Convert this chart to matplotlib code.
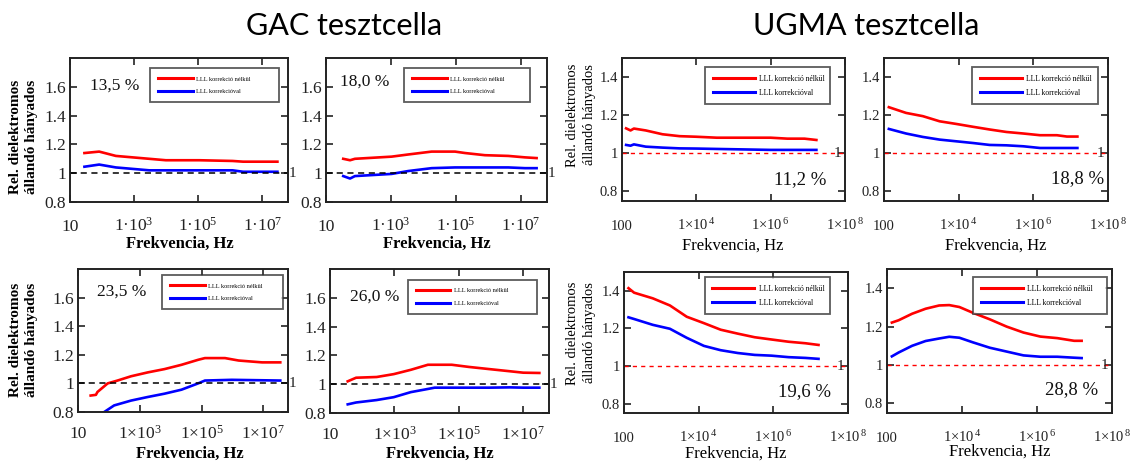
import numpy as np
import matplotlib
matplotlib.use("Agg")
import matplotlib.pyplot as plt

plt.rcParams['font.family'] = ['Liberation Serif', 'DejaVu Serif']
plt.rcParams['mathtext.fontset'] = 'custom'
plt.rcParams['mathtext.rm'] = 'Liberation Serif'
plt.rcParams['mathtext.it'] = 'Liberation Serif:italic'
plt.rcParams['mathtext.bf'] = 'Liberation Serif:bold'

# ---------------- data (log10 of frequency in Hz, relative ratio) ----------------
legend_labels = ["LLL korrekció nélkül", "LLL korrekcióval"]

# GAC 13,5 %
gac135_logf = [1.45, 1.91, 2.43, 2.95, 3.47, 3.99, 5.03, 6.07, 6.40, 7.47]
gac135_red = [1.14, 1.15, 1.12, 1.11, 1.10, 1.09, 1.09, 1.085, 1.08, 1.08]
gac135_blue = [1.045, 1.06, 1.04, 1.03, 1.02, 1.02, 1.02, 1.02, 1.01, 1.01]

# GAC 18,0 %
gac180_logf = [1.53, 1.74, 1.89, 3.02, 3.53, 4.25, 4.97, 5.28, 5.89, 6.61, 7.12, 7.48]
gac180_red = [1.10, 1.09, 1.10, 1.115, 1.13, 1.15, 1.15, 1.14, 1.125, 1.12, 1.11, 1.105]
gac180_blue = [0.98, 0.963, 0.98, 0.995, 1.015, 1.035, 1.04, 1.04, 1.04, 1.04, 1.035, 1.035]

# GAC 23,5 %
gac235_red_logf = [1.41, 1.58, 1.63, 1.96, 2.28, 2.72, 3.26, 3.80, 4.35, 4.89, 5.11, 5.76, 6.20, 6.96, 7.55]
gac235_red = [0.915, 0.92, 0.94, 1.0, 1.02, 1.05, 1.077, 1.10, 1.13, 1.165, 1.177, 1.177, 1.16, 1.147, 1.147]
gac235_blue_logf = [1.41, 1.85, 2.17, 2.72, 3.26, 3.80, 4.35, 4.89, 5.11, 5.98, 7.55]
gac235_blue = [0.74, 0.80, 0.846, 0.88, 0.905, 0.928, 0.956, 1.0, 1.02, 1.025, 1.02]

# GAC 26,0 %
gac260_logf = [1.55, 1.81, 2.45, 2.98, 3.51, 4.04, 4.25, 4.78, 5.31, 5.94, 6.58, 7.00, 7.50]
gac260_red = [1.02, 1.045, 1.05, 1.07, 1.10, 1.135, 1.135, 1.135, 1.12, 1.105, 1.09, 1.08, 1.078]
gac260_blue = [0.86, 0.873, 0.89, 0.91, 0.945, 0.967, 0.976, 0.976, 0.976, 0.976, 0.978, 0.976, 0.976]

# UGMA 11,2 %
ug112_logf = [2.11, 2.23, 2.32, 2.64, 3.09, 3.55, 4.00, 4.55, 6.00, 6.45, 6.91, 7.23]
ug112_red = [1.131, 1.12, 1.13, 1.12, 1.10, 1.09, 1.087, 1.082, 1.082, 1.077, 1.077, 1.07]
ug112_blue = [1.044, 1.04, 1.047, 1.035, 1.03, 1.026, 1.025, 1.023, 1.018, 1.018, 1.018, 1.018]

# UGMA 18,8 %
ug188_logf = [2.13, 2.59, 3.04, 3.49, 3.94, 4.39, 4.83, 5.28, 5.73, 6.18, 6.63, 6.90, 7.18]
ug188_red = [1.242, 1.212, 1.195, 1.168, 1.154, 1.139, 1.125, 1.112, 1.104, 1.095, 1.095, 1.088, 1.088]
ug188_blue = [1.128, 1.104, 1.086, 1.072, 1.063, 1.054, 1.044, 1.042, 1.037, 1.028, 1.028, 1.028, 1.028]

# UGMA 19,6 %
ug196_logf = [2.12, 2.27, 2.77, 3.23, 3.68, 4.14, 4.59, 5.05, 5.50, 5.95, 6.41, 6.86, 7.21]
ug196_red = [1.414, 1.39, 1.36, 1.322, 1.262, 1.228, 1.193, 1.172, 1.153, 1.141, 1.129, 1.121, 1.112]
ug196_blue = [1.259, 1.25, 1.219, 1.198, 1.15, 1.107, 1.084, 1.069, 1.059, 1.055, 1.047, 1.043, 1.038]

# UGMA 28,8 %
ug288_logf = [2.13, 2.31, 2.67, 3.03, 3.39, 3.66, 3.93, 4.29, 4.74, 5.19, 5.64, 6.09, 6.54, 6.99, 7.19]
ug288_red = [1.221, 1.233, 1.267, 1.293, 1.31, 1.312, 1.302, 1.272, 1.238, 1.20, 1.169, 1.148, 1.14, 1.126, 1.126]
ug288_blue = [1.045, 1.065, 1.10, 1.125, 1.138, 1.147, 1.142, 1.118, 1.09, 1.07, 1.05, 1.043, 1.043, 1.038, 1.036]

gac_xticks = [1e1, 1e3, 1e5, 1e7]
gac_xticklabels_top = ["10", "1·10$^{3}$", "1·10$^{5}$", "1·10$^{7}$"]
gac_xticklabels_bot = ["10", "1×10$^{3}$", "1×10$^{5}$", "1×10$^{7}$"]
gac_yticks = [0.8, 1.0, 1.2, 1.4, 1.6]
gac_yticklabels = ["0.8", "1", "1.2", "1.4", "1.6"]
ug_xticks = [1e2, 1e4, 1e6, 1e8]
ug_xticklabels = ["100", "1×10$^{\\,4}$", "1×10$^{\\,6}$", "1×10$^{\\,8}$"]
ug_yticks = [0.8, 1.0, 1.2, 1.4]
ug_yticklabels = ["0.8", "1", "1.2", "1.4"]

# ---------------- figure ----------------
W, H = 1135, 465
fig = plt.figure(figsize=(W / 100, H / 100), dpi=100)
fig.patch.set_facecolor('white')


def add_ax(l, t, r, b):
    return fig.add_axes([l / W, 1 - b / H, (r - l) / W, (b - t) / H])


def style(ax, lab_size, xpad):
    for s in ax.spines.values():
        s.set_linewidth(1.4)
        s.set_color('#222222')
    ax.tick_params(direction='in', top=True, right=True, length=5, width=1.2,
                   labelsize=lab_size, colors='#222222')
    ax.tick_params(axis='x', pad=xpad)
    ax.tick_params(axis='y', pad=3)
    ax.minorticks_off()


def panel(rect, kind, rlogf, red, blogf, blue, pct, pct_pos, leg_box, row):
    ax = add_ax(*rect)
    ax.set_xscale('log')
    ax.plot(10 ** np.array(rlogf), red, color='#ff0000', lw=1.9, label=legend_labels[0])
    ax.plot(10 ** np.array(blogf), blue, color='#0000ff', lw=1.9, label=legend_labels[1])
    if kind == 'gac':
        ax.axhline(1.0, color='black', lw=1.1, ls=(0, (4, 3)))
        ax.set_xlim(10, 10 ** 7.8)
        ax.set_ylim(0.8, 1.8)
        ax.set_xticks(gac_xticks)
        ax.set_xticklabels(gac_xticklabels_top if row == 0 else gac_xticklabels_bot,
                           va='baseline')
        ax.set_yticks(gac_yticks)
        ax.set_yticklabels(gac_yticklabels)
        style(ax, 12.5, 21 if row == 0 else 19)
        ax.text(1.005, 1.0, "1", transform=ax.get_yaxis_transform(), ha='left', va='center',
                fontsize=11, color='#222222')
        ax.text(pct_pos[0], pct_pos[1], pct, transform=ax.transAxes, ha='center', va='center',
                fontsize=12.5, color='#111111')
        leg_fs, bpad, lsp = 4.5, 1.3, 1.1
    else:
        ax.axhline(1.0, color='#ff0000', lw=1.0, ls=(0, (3, 3)))
        ax.set_xlim(100, 1e8)
        ax.set_ylim(0.75, 1.5)
        ax.set_xticks(ug_xticks)
        ax.set_xticklabels(ug_xticklabels, va='baseline')
        ax.set_yticks(ug_yticks)
        ax.set_yticklabels(ug_yticklabels)
        style(ax, 10.5, 21)
        ax.text(0.965, 1.0, "1", transform=ax.get_yaxis_transform(), ha='center', va='center',
                fontsize=11, color='#222222')
        ax.text(pct_pos[0], pct_pos[1], pct, transform=ax.transAxes, ha='center', va='center',
                fontsize=13.5, color='#111111')
        leg_fs, bpad, lsp = 5.5, 1.0, 0.8
    x0, x1, ytop, ybot = leg_box
    leg = ax.legend(loc='upper left', bbox_to_anchor=(x0, ybot, x1 - x0, ytop - ybot),
                    mode='expand', fontsize=leg_fs, frameon=True, fancybox=False,
                    borderaxespad=0, handlelength=5.5, handletextpad=0.6,
                    borderpad=bpad, labelspacing=lsp)
    leg.get_frame().set_edgecolor('#333333')
    leg.get_frame().set_linewidth(1.3)
    for ln in leg.get_lines():
        ln.set_linewidth(2.2)
    return ax


# GAC panels
panel((70, 58, 288, 202), 'gac', gac135_logf, gac135_red, gac135_logf, gac135_blue,
      "13,5 %", (0.206, 0.81), (0.367, 0.959, 0.93, 0.694), 0)
panel((326, 58, 547, 202), 'gac', gac180_logf, gac180_red, gac180_logf, gac180_blue,
      "18,0 %", (0.176, 0.833), (0.353, 0.923, 0.93, 0.70), 0)
panel((78, 269, 288, 412), 'gac', gac235_red_logf, gac235_red, gac235_blue_logf, gac235_blue,
      "23,5 %", (0.21, 0.84), (0.40, 0.976, 0.958, 0.748), 1)
panel((330, 269, 549, 413), 'gac', gac260_logf, gac260_red, gac260_logf, gac260_blue,
      "26,0 %", (0.205, 0.805), (0.356, 0.945, 0.924, 0.694), 1)

# UGMA panels
panel((622, 58, 845, 201), 'ug', ug112_logf, ug112_red, ug112_logf, ug112_blue,
      "11,2 %", (0.80, 0.147), (0.372, 0.933, 0.937, 0.692), 0)
panel((884, 58, 1108, 201), 'ug', ug188_logf, ug188_red, ug188_logf, ug188_blue,
      "18,8 %", (0.862, 0.16), (0.393, 0.955, 0.937, 0.70), 0)
panel((624, 272, 848, 413), 'ug', ug196_logf, ug196_red, ug196_logf, ug196_blue,
      "19,6 %", (0.808, 0.149), (0.36, 0.92, 0.965, 0.745), 1)
panel((887, 269, 1112, 413), 'ug', ug288_logf, ug288_red, ug288_logf, ug288_blue,
      "28,8 %", (0.822, 0.16), (0.382, 0.978, 0.944, 0.736), 1)


def ftext(x, y, s, **kw):
    fig.text(x / W, 1 - y / H, s, **kw)


# titles
ftext(344, 26, "GAC tesztcella", ha='center', va='center', fontsize=22, family='Lato')
ftext(866, 26, "UGMA tesztcella", ha='center', va='center', fontsize=22, family='Lato')

# x labels
for x, y in [(180, 244), (437, 244), (190, 454), (440, 454)]:
    ftext(x, y, "Frekvencia, Hz", ha='center', va='center', fontsize=12, weight='bold')
for x, y in [(733, 246), (996, 246), (736, 454), (1000, 452)]:
    ftext(x, y, "Frekvencia, Hz", ha='center', va='center', fontsize=12)

# y labels
for y in [137, 340]:
    ftext(24, y, "Rel. dielektromos\nállandó hányados", ha='center', va='center',
          rotation=90, fontsize=11, weight='bold', linespacing=1.3)
for y in [115, 333]:
    ftext(581, y, "Rel. dielektromos\nállandó hányados", ha='center', va='center',
          rotation=90, fontsize=10.5, linespacing=1.3)

fig.savefig("out.png", dpi=100)
